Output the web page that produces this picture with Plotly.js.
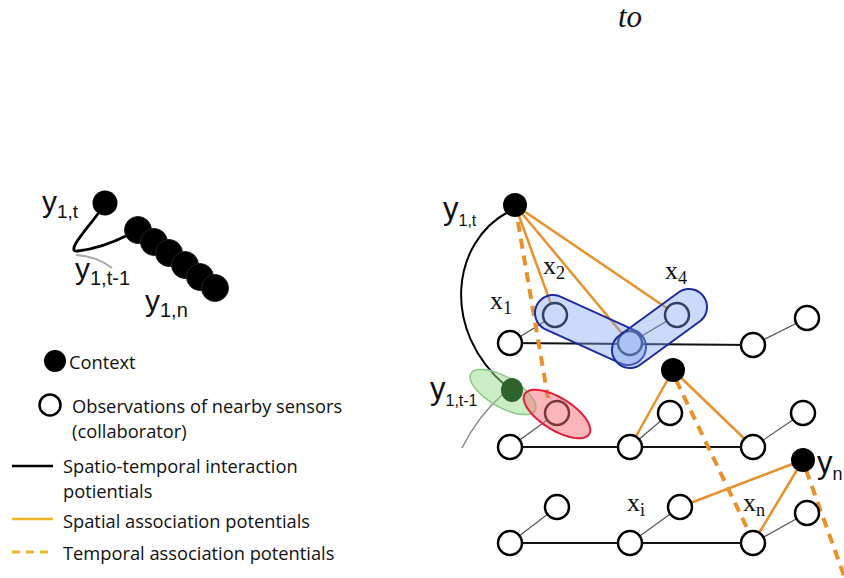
<!DOCTYPE html>
<html><head><meta charset="utf-8">
<script src="https://cdn.plot.ly/plotly-3.0.1.min.js"></script>
<style>html,body{margin:0;padding:0;background:#fff}</style>
</head><body><div id="chart" style="width:844px;height:578px"></div>
<script>
// ---------- data (diagram node positions, in picture units) ----------
// observation nodes: lower row nodes and their upper partner nodes
const obsLowerX = [510, 630, 753, 510, 630, 753, 510, 630, 753];
const obsLowerY = [343, 343, 345, 447, 447, 447, 543, 543, 543];
const obsUpperX = [555, 677, 807, 557, 670, 803, 557, 680, 807];
const obsUpperY = [315, 315, 318, 413, 413, 413, 507, 507, 513];
const rowFirst = [0, 3, 6];
const rowLast = [2, 5, 8];
// context nodes (right diagram)
const ctxX = [515, 673, 803];
const ctxY = [205, 370, 460];
const prevCtxX = [512];
const prevCtxY = [390];
// spatial association links: from context node index to a point
const spatialFrom = [0, 0, 0, 1, 1, 2, 2];
const spatialToX = [555, 630, 677, 630, 753, 680, 753];
const spatialToY = [315, 343, 315, 447, 447, 507, 543];
// temporal association links
const temporalX0 = [518, 676, 806];
const temporalY0 = [222, 380, 470];
const temporalX1 = [548, 748, 852];
const temporalY1 = [398, 530, 598];
// left small diagram
const headX = [105], headY = [203];
const chainX = [138, 154, 169, 185, 200, 215];
const chainY = [230, 242, 253, 265, 277, 288];
// legend
const legendLabels = ['Context', 'Observations of nearby sensors', '(collaborator)',
  'Spatio-temporal interaction', 'potientials', 'Spatial association potentials',
  'Temporal association potentials'];
const legendLabelY = [361, 405, 430, 465, 490, 520, 552];
const legendLabelX = [67, 70, 70, 61, 61, 61, 61];

// ---------- helpers ----------
function segs(x0, y0, x1, y1) {
  const X = [], Y = [];
  for (let i = 0; i < x0.length; i++) { X.push(x0[i], x1[i], null); Y.push(y0[i], y1[i], null); }
  return {X, Y};
}
function toPath(pts) {
  return 'M' + pts.map(p => p[0].toFixed(1) + ',' + p[1].toFixed(1)).join('L') + 'Z';
}
function capsule(ax, ay, bx, by, r) {
  const pd = Math.atan2(by - ay, bx - ax);
  const pts = [], N = 24;
  for (let i = 0; i <= N; i++) { const a = pd + Math.PI / 2 - Math.PI * i / N; pts.push([bx + r * Math.cos(a), by + r * Math.sin(a)]); }
  for (let i = 0; i <= N; i++) { const a = pd - Math.PI / 2 - Math.PI * i / N; pts.push([ax + r * Math.cos(a), ay + r * Math.sin(a)]); }
  return toPath(pts);
}
function ellipse(cx, cy, a, b, deg) {
  const th = deg * Math.PI / 180, pts = [];
  for (let i = 0; i < 60; i++) {
    const t = 2 * Math.PI * i / 60;
    pts.push([cx + a * Math.cos(t) * Math.cos(th) - b * Math.sin(t) * Math.sin(th),
              cy + a * Math.cos(t) * Math.sin(th) + b * Math.sin(t) * Math.cos(th)]);
  }
  return toPath(pts);
}

const ORANGE = '#e8912d', GOLD = '#f2b324';
const traces = [];

// rows
const rows = segs(rowFirst.map(i => obsLowerX[i]), rowFirst.map(i => obsLowerY[i]),
                  rowLast.map(i => obsLowerX[i]), rowLast.map(i => obsLowerY[i]));
traces.push({x: rows.X, y: rows.Y, mode: 'lines', line: {color: '#111', width: 2}});
// thin links lower->upper
const thin = segs(obsLowerX, obsLowerY, obsUpperX, obsUpperY);
traces.push({x: thin.X, y: thin.Y, mode: 'lines', line: {color: '#555', width: 1.2}});
// spatial
const sp = segs(spatialFrom.map(i => ctxX[i]), spatialFrom.map(i => ctxY[i]), spatialToX, spatialToY);
traces.push({x: sp.X, y: sp.Y, mode: 'lines', line: {color: ORANGE, width: 2.5}});
// temporal
const tp = segs(temporalX0, temporalY0, temporalX1, temporalY1);
traces.push({x: tp.X, y: tp.Y, mode: 'lines', line: {color: ORANGE, width: 4, dash: '10px,7px'}});
// observation nodes
traces.push({x: obsLowerX.concat(obsUpperX), y: obsLowerY.concat(obsUpperY), mode: 'markers',
  marker: {size: 24, color: '#fff', line: {color: '#000', width: 2.5}}});
// context nodes
traces.push({x: ctxX, y: ctxY, mode: 'markers', marker: {size: 24, color: '#000', line: {width: 0}}});
// left diagram nodes
traces.push({x: headX, y: headY, mode: 'markers', marker: {size: 25, color: '#000', line: {width: 0}}});
traces.push({x: chainX, y: chainY, mode: 'markers', marker: {size: 27, color: '#000', line: {color: '#222', width: 1}}});
// legend symbols
traces.push({x: [55], y: [361], mode: 'markers', marker: {size: 22, color: '#000'}});
traces.push({x: [50], y: [405], mode: 'markers', marker: {size: 21, color: '#fff', line: {color: '#000', width: 2.5}}});
traces.push({x: [12, 53], y: [466, 466], mode: 'lines', line: {color: '#000', width: 2.5}});
traces.push({x: [12, 53], y: [519, 519], mode: 'lines', line: {color: GOLD, width: 2.5}});
traces.push({x: [12, 53], y: [552, 552], mode: 'lines', line: {color: GOLD, width: 3, dash: '8px,6px'}});

const shapes = [
  // right spatio-temporal arc
  {type: 'path', path: 'M 508 212 C 452 242, 440 330, 506 386', line: {color: '#000', width: 2}, layer: 'below'},
  {type: 'path', path: 'M 503 394 Q 478 416 462 448', line: {color: '#888', width: 1.5}, layer: 'below'},
  // left small curve
  {type: 'path', path: 'M 100 211 C 88 228, 64 253, 78 251 C 95 249, 112 243, 128 235', line: {color: '#000', width: 2.8}, layer: 'below'},
  {type: 'path', path: 'M 76 255 Q 96 256, 112 268', line: {color: '#aaa', width: 2}, layer: 'below'},
  // blobs
  {type: 'path', path: capsule(553, 313, 628, 347, 18), fillcolor: 'rgba(125,160,242,0.4)', line: {color: '#1c2c9c', width: 2}, layer: 'above'},
  {type: 'path', path: capsule(630, 350, 689, 307, 18), fillcolor: 'rgba(125,160,242,0.4)', line: {color: '#1c2c9c', width: 2}, layer: 'above'},
  {type: 'path', path: ellipse(503, 392, 37, 15, 30), fillcolor: 'rgba(150,220,140,0.5)', line: {color: '#86c886', width: 1.5}, layer: 'above'},
  {type: 'circle', x0: prevCtxX[0] - 11, x1: prevCtxX[0] + 11, y0: prevCtxY[0] - 12, y1: prevCtxY[0] + 12,
    fillcolor: '#2e632e', line: {width: 0}, layer: 'above'},
  {type: 'path', path: ellipse(557, 414, 38, 16, 32), fillcolor: 'rgba(245,110,120,0.5)', line: {color: '#e0203a', width: 2}, layer: 'above'}
];

function ann(x, y, text, size, family, extra) {
  return Object.assign({x, y, xref: 'x', yref: 'y', text, showarrow: false, xanchor: 'left', yanchor: 'middle',
    font: {size, family, color: '#111'}}, extra || {});
}
function ylab(sub, subSize) { return 'y<sub><span style="font-size:' + subSize + 'px">' + sub + '</span></sub>'; }
const SANS = 'Liberation Sans, Arial, sans-serif';
const SERIF = 'Liberation Serif, Times New Roman, serif';
const LEG = 'Open Sans, sans-serif';
const annotations = [
  ann(630, 16, 'to', 31, SERIF, {xanchor: 'center', font: {size: 31, family: 'Liberation Serif', style: 'italic', color: '#111'}}),
  // left diagram labels
  ann(40, 203, ylab('1,t', 19), 30, SANS),
  ann(73, 270, ylab('1,t-1', 20), 30, SANS),
  ann(143, 302, ylab('1,n', 20), 30, SANS),
  // right labels
  ann(441, 210, ylab('1,t', 16), 31, SANS),
  ann(428, 390, ylab('1,t-1', 16), 31, SANS),
  ann(815, 464, ylab('n', 18), 31, SANS),
  ann(488, 302, 'x<sub>1</sub>', 26, SERIF),
  ann(541, 267, 'x<sub>2</sub>', 26, SERIF),
  ann(663, 272, 'x<sub>4</sub>', 26, SERIF),
  ann(625, 504, 'x<sub>i</sub>', 26, SERIF),
  ann(741, 504, 'x<sub>n</sub>', 26, SERIF)
];
legendLabels.forEach((t, i) => annotations.push(ann(legendLabelX[i], legendLabelY[i], t, 18.3, LEG)));

Plotly.newPlot('chart', traces, {
  width: 844, height: 578, margin: {l: 0, r: 0, t: 0, b: 0},
  paper_bgcolor: '#fff', plot_bgcolor: '#fff', showlegend: false,
  xaxis: {range: [0, 844], visible: false, fixedrange: true},
  yaxis: {range: [578, 0], visible: false, fixedrange: true},
  shapes, annotations
}, {staticPlot: true});
</script></body></html>
